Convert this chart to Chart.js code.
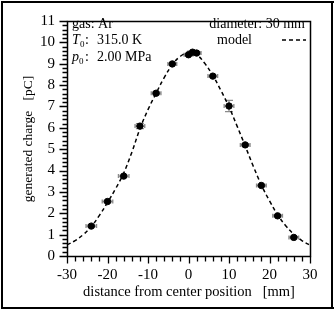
<!DOCTYPE html>
<html>
<head>
<meta charset="utf-8">
<script src="https://cdn.jsdelivr.net/npm/chart.js@4"></script>
<style>
  html, body { margin: 0; padding: 0; background: #fff; }
  #wrap { width: 335px; height: 311px; position: relative; }
</style>
</head>
<body>
<div id="wrap"><canvas id="chart"></canvas></div>
<script>
// --- measured points (position in mm, charge in pC) ---
const posX = [-24, -20, -16, -12, -8, -4, 0, 1, 2, 6, 10, 14, 18, 22, 26];
const chargeY = [1.40, 2.55, 3.74, 6.08, 7.62, 8.99, 9.42, 9.54, 9.50, 8.42, 7.02, 5.20, 3.30, 1.88, 0.87];
const errX = [1.3, 1.3, 1.3, 1.2, 1.2, 1.1, 1.1, 1.1, 1.1, 1.2, 1.2, 1.2, 1.2, 1.2, 1.2];
const errY = [0.05, 0.05, 0.05, 0.12, 0.06, 0.04, 0.05, 0.05, 0.05, 0.05, 0.26, 0.06, 0.05, 0.05, 0.05];

// --- model curve ---
const modelX = [-30, -28, -26, -24, -22, -20, -18, -16, -14, -12, -10, -8, -6, -4, -2, 0, 2, 4, 6, 8, 10, 12, 14, 16, 18, 20, 22, 24, 26, 28, 30];
const modelY = [0.52, 0.72, 1.0, 1.38, 1.9, 2.5, 3.15, 3.88, 4.85, 5.95, 6.85, 7.62, 8.35, 8.95, 9.35, 9.52, 9.42, 9.02, 8.45, 7.75, 6.98, 6.08, 5.15, 4.2, 3.32, 2.58, 1.93, 1.42, 1.02, 0.72, 0.5];

const xTickLabels = ['-30', '-20', '-10', '0', '10', '20', '30'];
const serif = "'Liberation Serif', 'DejaVu Serif', serif";

// extra drawing: frames, tick marks, error bars, labels, annotations
const decor = {
  id: 'decor',
  beforeDatasetsDraw(chart) {
    const { ctx, scales: { x, y } } = chart;
    ctx.save();
    ctx.strokeStyle = '#8a8a8a';
    ctx.lineWidth = 1.3;
    posX.forEach((px, i) => {
      const cx = x.getPixelForValue(px), cy = y.getPixelForValue(chargeY[i]);
      const x0 = x.getPixelForValue(px - errX[i]), x1 = x.getPixelForValue(px + errX[i]);
      const y0 = y.getPixelForValue(chargeY[i] - errY[i]), y1 = y.getPixelForValue(chargeY[i] + errY[i]);
      ctx.beginPath();
      ctx.moveTo(x0, cy); ctx.lineTo(x1, cy);
      ctx.moveTo(x0, cy - 2); ctx.lineTo(x0, cy + 2);
      ctx.moveTo(x1, cy - 2); ctx.lineTo(x1, cy + 2);
      ctx.moveTo(cx, y0); ctx.lineTo(cx, y1);
      ctx.moveTo(cx - 4, y0); ctx.lineTo(cx + 4, y0);
      ctx.moveTo(cx - 4, y1); ctx.lineTo(cx + 4, y1);
      ctx.stroke();
    });
    ctx.restore();
  },
  afterDraw(chart) {
    const { ctx, scales: { x, y } } = chart;
    const L = Math.round(x.getPixelForValue(-30)) + 0.5, R = Math.round(x.getPixelForValue(30)) + 0.5;
    const T = Math.round(y.getPixelForValue(11)) + 0.5, B = Math.round(y.getPixelForValue(0)) + 0.5;
    ctx.save();
    ctx.setLineDash([]);
    ctx.fillStyle = '#000';
    ctx.strokeStyle = '#000';
    // outer frame
    ctx.fillRect(1, 1, 333, 2);
    ctx.fillRect(1, 307, 333, 2);
    ctx.fillRect(1, 1, 2, 308);
    ctx.fillRect(331, 1, 2, 308);
    // plot box
    ctx.lineWidth = 1.5;
    ctx.strokeRect(L, T, R - L, B - T);
    // tick marks
    ctx.lineWidth = 1.3;
    ctx.beginPath();
    for (let v = -30; v <= 30; v += 2) {
      const px = Math.round(x.getPixelForValue(v)) + 0.5;
      ctx.moveTo(px, B); ctx.lineTo(px, B + (v % 10 === 0 ? 7 : 5));
    }
    for (let k = 0; k <= 55; k++) {
      const py = Math.round(y.getPixelForValue(k / 5)) + 0.5;
      ctx.moveTo(L, py); ctx.lineTo(L - (k % 5 === 0 ? 8 : 5), py);
    }
    ctx.stroke();

    // axis titles
    ctx.textAlign = 'center';
    ctx.textBaseline = 'alphabetic';
    ctx.font = '14.5px ' + serif;
    ctx.fillText('distance from center position   [mm]', (L + R) / 2, 296);
    ctx.save();
    ctx.translate(32, (T + B) / 2);
    ctx.rotate(-Math.PI / 2);
    ctx.font = '13.5px ' + serif;
    ctx.fillText('generated charge   [pC]', 0, 0);
    ctx.restore();

    // annotations, left block
    ctx.font = '14px ' + serif;
    ctx.textAlign = 'left';
    ctx.fillText('gas: Ar', 72, 28);
    ctx.font = 'italic 14px ' + serif;
    ctx.fillText('T', 72, 44);
    ctx.fillText('p', 72, 61);
    ctx.font = '9px ' + serif;
    ctx.fillText('0', 80, 47);
    ctx.fillText('0', 79, 64);
    ctx.font = '14px ' + serif;
    ctx.fillText(':', 85, 44);
    ctx.fillText(':', 85, 61);
    ctx.fillText('315.0 K', 97, 44);
    ctx.fillText('2.00 MPa', 97, 61);

    // annotations, right block
    ctx.textAlign = 'right';
    ctx.fillText('diameter: 30 mm', 305, 28);
    ctx.textAlign = 'left';
    ctx.fillText('model', 217, 44);
    ctx.setLineDash([4, 3]);
    ctx.lineWidth = 1.5;
    ctx.beginPath();
    ctx.moveTo(282, 40); ctx.lineTo(306, 40);
    ctx.stroke();
    ctx.restore();
  }
};

new Chart(document.getElementById('chart'), {
  type: 'scatter',
  data: {
    datasets: [
      {
        label: 'model',
        data: modelX.map((v, i) => ({ x: v, y: modelY[i] })),
        showLine: true,
        borderColor: '#000',
        borderWidth: 1.5,
        borderDash: [4, 3],
        pointRadius: 0,
        tension: 0.4,
        order: 2
      },
      {
        label: 'measured',
        data: posX.map((v, i) => ({ x: v, y: chargeY[i] })),
        backgroundColor: '#000',
        borderColor: '#000',
        pointRadius: 3.2,
        order: 1
      }
    ]
  },
  options: {
    responsive: true,
    maintainAspectRatio: false,
    animation: false,
    layout: { padding: { left: 0, top: 15, right: 25, bottom: 0 } },
    plugins: { legend: { display: false }, tooltip: { enabled: false } },
    scales: {
      x: {
        type: 'linear', min: -30, max: 30,
        grid: { display: false, drawTicks: false }, border: { display: false },
        afterFit: s => { s.height = 55; },
        afterBuildTicks: s => { s.ticks = xTickLabels.map(t => ({ value: Number(t) })); },
        ticks: { color: '#000', padding: 10, font: { family: serif, size: 15 }, maxRotation: 0 }
      },
      y: {
        min: 0, max: 11,
        grid: { display: false, drawTicks: false }, border: { display: false },
        afterFit: s => { s.width = 67; },
        ticks: { stepSize: 1, color: '#000', padding: 12, font: { family: serif, size: 15 } }
      }
    }
  },
  plugins: [decor]
});
</script>
</body>
</html>
